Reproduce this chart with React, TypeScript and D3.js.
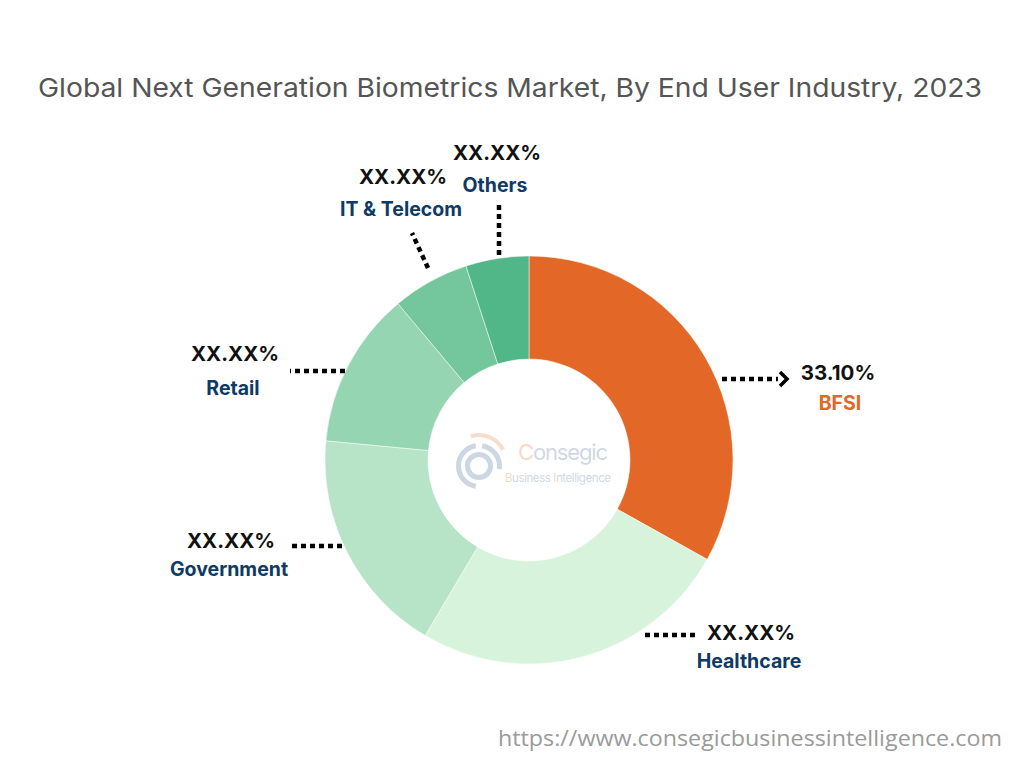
import React from "react";
import * as d3 from "d3";

// data
const categories = ["BFSI", "Healthcare", "Government", "Retail", "IT & Telecom", "Others"];
const shares = [33.1, 25.4, 18.0, 12.4, 6.1, 5.0];
const valueLabels = ["33.10%", "XX.XX%", "XX.XX%", "XX.XX%", "XX.XX%", "XX.XX%"];
const colors = ["#E36726", "#D8F3DC", "#B7E4C7", "#95D5B2", "#74C69D", "#52B788"];

const width = 1024;
const height = 768;
const cx = 529;
const cy = 460;
const outerR = 204;
const innerR = 101;

// label layout: leader line start/end (relative to center), text anchor, gap to name line
const callouts = [
  { x1: 193, y1: -81, x2: 249, y2: -81, tx: 309, ty: -80, gap: 30, arrow: true, nameColor: "#E36726" },
  { x1: 166, y1: 175, x2: 113, y2: 175, tx: 222, ty: 180, gap: 28, arrow: false, nameColor: "#0E3A66" },
  { x1: -187, y1: 86, x2: -239, y2: 86, tx: -298, ty: 88, gap: 28, arrow: false, nameColor: "#0E3A66" },
  { x1: -184, y1: -89, x2: -239, y2: -89, tx: -294, ty: -99, gap: 34, arrow: false, nameColor: "#0E3A66" },
  { x1: -101, y1: -192, x2: -117, y2: -227, tx: -126, ty: -276, gap: 32, arrow: false, nameColor: "#0E3A66" },
  { x1: -30, y1: -205, x2: -30, y2: -255, tx: -32, ty: -300, gap: 32, arrow: false, nameColor: "#0E3A66" },
];

const font = "Inter, Roboto, sans-serif";

export default function App() {
  const pie = d3
    .pie<number>()
    .sort(null)
    .value((d) => d);
  const arcs = pie(shares);
  const arc = d3.arc<d3.PieArcDatum<number>>().innerRadius(innerR).outerRadius(outerR);
  const ring = d3.arc();

  return (
    <svg width={width} height={height} style={{ display: "block", margin: -8 }}>
      <rect width={width} height={height} fill="#fff" />
      <text
        x={38}
        y={97}
        textLength={944}
        lengthAdjust="spacingAndGlyphs"
        fontFamily={font}
        fontSize={26}
        fill="#555"
      >
        Global Next Generation Biometrics Market, By End User Industry, 2023
      </text>

      <g transform={`translate(${cx},${cy})`}>
        {arcs.map((a, i) => (
          <path key={categories[i]} d={arc(a) || ""} fill={colors[i]} stroke="#fff" strokeWidth={0.5} />
        ))}

        {/* watermark */}
        <g opacity={0.35} transform="translate(-50,6)">
          <path
            d={ring({ innerRadius: 18, outerRadius: 23, startAngle: -Math.PI * 0.95, endAngle: -Math.PI * 0.05 }) || ""}
            fill="#6f8fb5"
          />
          <path
            d={ring({ innerRadius: 18, outerRadius: 23, startAngle: Math.PI * 0.05, endAngle: Math.PI * 0.55 }) || ""}
            fill="#6f8fb5"
          />
          <path
            d={ring({ innerRadius: 9, outerRadius: 14, startAngle: 0, endAngle: Math.PI * 2 }) || ""}
            fill="#6f8fb5"
          />
          <path
            d={ring({ innerRadius: 25, outerRadius: 29, startAngle: -Math.PI * 0.1, endAngle: Math.PI * 0.35 }) || ""}
            fill="#f0a070"
            transform="translate(0,-4)"
          />
        </g>
        <g opacity={0.4}>
          <text x={-11} y={0} textLength={90} fontFamily={font} fontSize={22} fill="#8aa0bc">
            <tspan fill="#f0a070">C</tspan>onsegic
          </text>
          <text x={-24} y={22} textLength={106} fontFamily={font} fontSize={11.5} fill="#8aa0bc">
            <tspan fill="#f0a070">B</tspan>usiness <tspan fill="#f0a070">I</tspan>ntelligence
          </text>
        </g>

        {callouts.map((c, i) => (
          <g key={categories[i]}>
            <line
              x1={c.x1}
              y1={c.y1}
              x2={c.x2}
              y2={c.y2}
              stroke="#000"
              strokeWidth={4.5}
              strokeDasharray="5 4"
            />
            {c.arrow && (
              <path
                d={`M${c.x2 + 2},${c.y2 - 7}L${c.x2 + 9},${c.y2}L${c.x2 + 2},${c.y2 + 7}`}
                fill="none"
                stroke="#000"
                strokeWidth={3.5}
              />
            )}
            <text
              x={c.tx}
              y={c.ty}
              textAnchor="middle"
              fontFamily={font}
              fontWeight={700}
              fontSize={20.5}
              fill="#111"
            >
              {valueLabels[i]}
            </text>
            <text
              x={c.tx + (i === 0 ? 2 : -2)}
              y={c.ty + c.gap}
              textAnchor="middle"
              fontFamily={font}
              fontWeight={700}
              fontSize={19.5}
              fill={c.nameColor}
            >
              {categories[i]}
            </text>
          </g>
        ))}
      </g>

      <text
        x={498}
        y={746}
        textLength={504}
        lengthAdjust="spacingAndGlyphs"
        fontFamily="'Open Sans', sans-serif"
        fontSize={22}
        fill="#9a9a9a"
      >
        https://www.consegicbusinessintelligence.com
      </text>
    </svg>
  );
}
